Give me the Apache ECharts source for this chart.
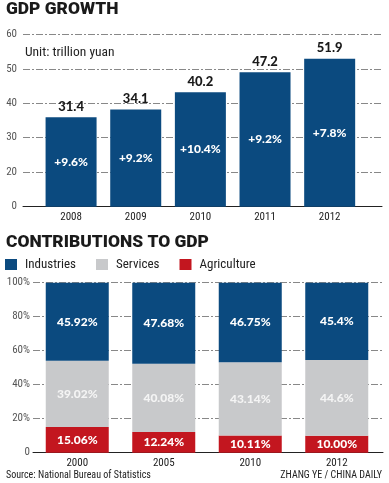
<!DOCTYPE html>
<html><head><meta charset="utf-8">
<script src="https://cdn.jsdelivr.net/npm/echarts@6/dist/echarts.min.js"></script>
<style>html,body{margin:0;padding:0;background:#fff}#c{width:389px;height:483px}</style>
</head><body><div id="c"></div><script>
const gdpYears = ['2008', '2009', '2010', '2011', '2012'];
const gdpValues = [31.4, 34.1, 40.2, 47.2, 51.9];
const gdpGrowth = ['+9.6%', '+9.2%', '+10.4%', '+9.2%', '+7.8%'];
const gdpTickLabels = ['0', '20', '30', '40', '50', '60'];
const shareYears = ['2000', '2005', '2010', '2012'];
const industries = ['45.92', '47.68', '46.75', '45.4'];
const services = ['39.02', '40.08', '43.14', '44.6'];
const agriculture = ['15.06', '12.24', '10.11', '10.00'];

const BLUE = '#0b4a7f', GRAY = '#c8c9cb', RED = '#c3161f';
const heavy = 'Lato';
const light = '"Roboto Condensed", "DejaVu Sans Condensed", Roboto, sans-serif';
const dashDot = [7, 2, 2, 2];

const chart = echarts.init(document.getElementById('c'));
chart.setOption({
  animation: false,
  graphic: [
    {type: 'text', x: 6, y: 10, style: {text: 'GDP GROWTH', font: '900 17.4px Roboto', fill: '#1a1a1a', textVerticalAlign: 'middle'}},
    {type: 'text', x: 25, y: 53, style: {text: 'Unit: trillion yuan', font: '13.5px ' + light, fill: '#222', textVerticalAlign: 'middle'}},
    {type: 'text', x: 6, y: 243, style: {text: 'CONTRIBUTIONS TO GDP', font: '900 17.4px Roboto', fill: '#1a1a1a', textVerticalAlign: 'middle'}},
    {type: 'text', x: 6, y: 475, style: {text: 'Source: National Bureau of Statistics', font: '10px ' + light, fill: '#222', textVerticalAlign: 'middle'}},
    {type: 'text', x: 382, y: 475, style: {text: 'ZHANG YE / CHINA DAILY', font: '10px ' + light, fill: '#222', textAlign: 'right', textVerticalAlign: 'middle'}}
  ],
  legend: {
    left: 5, top: 258, padding: 0, itemWidth: 12, itemHeight: 11, itemGap: 20, icon: 'rect',
    data: ['Industries', 'Services', 'Agriculture'],
    textStyle: {fontFamily: light, fontSize: 13, color: '#222', padding: [0, 0, 0, 3]}
  },
  grid: [
    {left: 23, right: 7, top: 34.3, height: 172.4},
    {left: 38.75, right: 27, top: 34.3, height: 172.4},
    {left: 33, right: 6, top: 282.7, height: 170},
    {left: 34, right: 9, top: 282.7, height: 170}
  ],
  xAxis: [
    {gridIndex: 0, type: 'value', min: 0, max: 1, axisLabel: {show: false}, axisTick: {show: false}, splitLine: {show: false}, axisLine: {show: true, lineStyle: {color: '#222', width: 1}}},
    {gridIndex: 1, type: 'category', data: gdpYears, axisLine: {show: false}, axisTick: {show: false}, axisLabel: {margin: 5, fontFamily: light, fontSize: 11, color: '#222'}},
    {gridIndex: 2, type: 'value', min: 0, max: 1, axisLabel: {show: false}, axisTick: {show: false}, splitLine: {show: false}, axisLine: {show: true, lineStyle: {color: '#222', width: 1}}},
    {gridIndex: 3, type: 'category', data: shareYears, axisLine: {show: false}, axisTick: {show: false}, axisLabel: {margin: 5, fontFamily: light, fontSize: 11, color: '#222'}}
  ],
  yAxis: [
    {gridIndex: 0, type: 'value', min: 0, max: 60, interval: 12, axisLine: {show: false}, axisTick: {show: false},
     axisLabel: {margin: 6, fontFamily: light, fontSize: 11, color: '#555', formatter: v => gdpTickLabels[Math.round(v / 12)]},
     splitLine: {show: true, lineStyle: {color: '#888', type: dashDot}}},
    {gridIndex: 1, type: 'value', min: 0, max: 60.5, show: false},
    {gridIndex: 2, type: 'value', min: 0, max: 100, interval: 20, axisLine: {show: false}, axisTick: {show: false},
     axisLabel: {margin: 3, fontFamily: light, fontSize: 11, color: '#555', formatter: v => v === 0 ? '0' : v + '%'},
     splitLine: {show: true, lineStyle: {color: '#888', type: dashDot}}},
    {gridIndex: 3, type: 'value', min: 0, max: 100, show: false}
  ],
  series: [
    {type: 'bar', name: 'GDP', xAxisIndex: 1, yAxisIndex: 1, data: gdpValues, barWidth: 51,
     itemStyle: {color: BLUE},
     label: {show: true, position: 'inside', formatter: p => gdpGrowth[p.dataIndex], color: '#fff', fontFamily: heavy, fontWeight: 900, fontSize: 12}},
    {type: 'bar', name: 'GDPtop', xAxisIndex: 1, yAxisIndex: 1, data: gdpValues, barWidth: 51, barGap: '-100%',
     itemStyle: {color: 'rgba(0,0,0,0)'},
     label: {show: true, position: 'top', distance: 4, color: '#1a1a1a', fontFamily: heavy, fontWeight: 900, fontSize: 13}},
    {type: 'bar', name: 'Agriculture', stack: 's', xAxisIndex: 3, yAxisIndex: 3, data: agriculture, barWidth: 63,
     itemStyle: {color: RED},
     label: {show: true, position: 'inside', formatter: p => p.data + '%', color: '#fff', fontFamily: heavy, fontWeight: 900, fontSize: 12}},
    {type: 'bar', name: 'Services', stack: 's', xAxisIndex: 3, yAxisIndex: 3, data: services, barWidth: 63,
     itemStyle: {color: GRAY},
     label: {show: true, position: 'inside', formatter: p => p.data + '%', color: '#f4f4f4', fontFamily: heavy, fontWeight: 900, fontSize: 12}},
    {type: 'bar', name: 'Industries', stack: 's', xAxisIndex: 3, yAxisIndex: 3, data: industries, barWidth: 63,
     itemStyle: {color: BLUE},
     label: {show: true, position: 'inside', formatter: p => p.data + '%', color: '#fff', fontFamily: heavy, fontWeight: 900, fontSize: 12}}
  ]
});
</script></body></html>
